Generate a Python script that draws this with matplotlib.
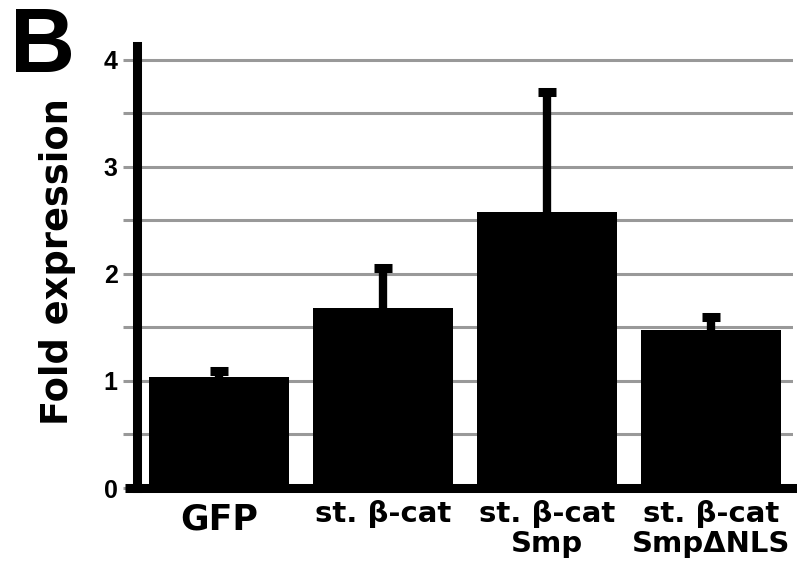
import numpy as np
import matplotlib
matplotlib.use('Agg')
import matplotlib.pyplot as plt

plt.rcParams['font.family'] = ['Liberation Sans', 'DejaVu Sans']

# data
groups = ['GFP', 'st. \u03b2-cat', 'st. \u03b2-cat\nSmp', 'st. \u03b2-cat\nSmp\u0394NLS']
fold = [1.04, 1.68, 2.58, 1.48]
err_top = [1.09, 2.06, 3.70, 1.60]
yticks = [0, 1, 2, 3, 4]

fig = plt.figure(figsize=(7.97, 5.75), dpi=100)
ax = fig.add_axes([137/797, 1 - 488/575, 656/797, 442/575])

x = np.arange(len(groups))
ax.bar(x, fold, width=0.85, color='black', zorder=3)
# upper-only error bars with thick caps
ax.vlines(x, fold, err_top, color='black', linewidth=6, zorder=2)
ax.plot(x, err_top, ls='none', marker='_', markersize=13.6, markeredgewidth=6.5,
        color='black', zorder=2)

ax.set_xlim(-0.5, 3.5)
ax.set_ylim(0, 4.13)
ax.set_yticks(yticks)
ax.set_yticks(np.arange(0.5, 4.5, 1.0), minor=True)
ax.set_yticklabels([str(t) for t in yticks], fontsize=18, fontweight='bold')
ax.set_xticks([])
ax.grid(axis='y', which='both', color='#999999', linewidth=2.2)
ax.set_axisbelow(True)
ax.tick_params(axis='y', which='both', length=10, width=2.2, color='#999999', pad=4)

for s in ['top', 'right', 'bottom']:
    ax.spines[s].set_visible(False)
ax.spines['left'].set_linewidth(6.5)
ax.spines['left'].set_zorder(5)

# thick baseline running past both ends
ax.axhline(0, xmin=(125 - 137) / 656, xmax=(799 - 137) / 656, color='black',
           linewidth=6.5, solid_capstyle='butt', clip_on=False, zorder=6)

# category labels
for i, g in enumerate(groups):
    if g == 'GFP':
        ax.text(i, -0.14, g, ha='center', va='top', fontsize=25, fontweight='bold',
                family='DejaVu Sans', clip_on=False)
    else:
        ax.text(i, -0.11, g, ha='center', va='top', fontsize=21, fontweight='bold',
                family='DejaVu Sans', linespacing=1.12, clip_on=False)

fig.text(57/797, 1 - 262/575, 'Fold expression', rotation=90, ha='center', va='center',
         fontsize=26.5, fontweight='bold', family='DejaVu Sans')
fig.text(10/797, 1 - 6/575, 'B', ha='left', va='top', fontsize=65, fontweight='bold')
fig.text(8/797, 1 - 573/575, 'C', ha='left', va='top', fontsize=65, fontweight='bold')

fig.savefig('out.png', dpi=100)
